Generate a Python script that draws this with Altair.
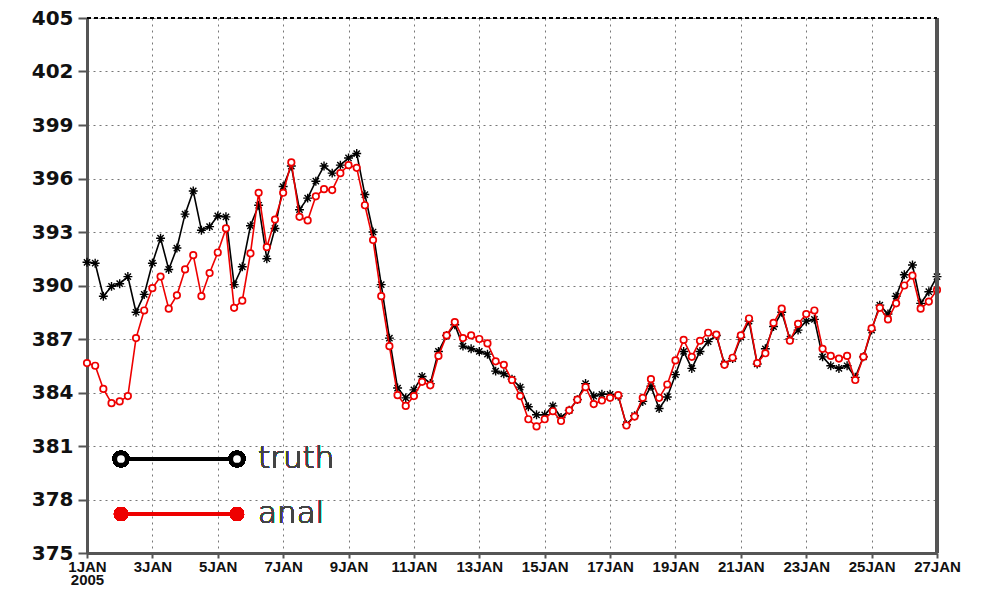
import json
import altair as alt
import pandas as pd

# 6-hourly samples from 1JAN2005 00Z (index * 0.25 day)
truth = [391.3, 391.25, 389.4, 389.95, 390.1, 390.5, 388.5, 389.5, 391.25, 392.65,
         390.9, 392.1, 394.0, 395.3, 393.1, 393.3, 393.9, 393.85, 390.05, 391.05,
         393.35, 394.5, 391.5, 393.2, 395.55, 396.7, 394.25, 394.9, 395.85, 396.7,
         396.3, 396.75, 397.15, 397.4, 395.1, 393.0, 390.05, 387.05, 384.25, 383.7,
         384.15, 384.9, 384.5, 386.3, 387.2, 387.8, 386.6, 386.45, 386.3, 386.15,
         385.2, 385.05, 384.75, 384.3, 383.2, 382.75, 382.75, 383.25, 382.6, 383.0,
         383.6, 384.5, 383.8, 383.9, 383.9, 383.8, 382.2, 382.7, 383.5, 384.35,
         383.1, 383.75, 385.0, 386.3, 385.35, 386.3, 386.85, 387.2, 385.6, 385.9,
         387.1, 388.0, 385.6, 386.45, 387.7, 388.5, 387.0, 387.5, 388.0, 388.1,
         386.0, 385.5, 385.35, 385.5, 384.85, 386.0, 387.5, 388.9, 388.4, 389.4,
         390.6, 391.15, 389.0, 389.65, 390.5]
anal = [385.65, 385.5, 384.2, 383.4, 383.5, 383.8, 387.05, 388.6, 389.85, 390.5,
        388.7, 389.45, 390.9, 391.7, 389.4, 390.7, 391.85, 393.2, 388.75, 389.15,
        391.8, 395.2, 392.15, 393.7, 395.2, 396.9, 393.85, 393.65, 395.0, 395.4,
        395.35, 396.3, 396.75, 396.6, 394.5, 392.55, 389.4, 386.6, 383.85, 383.25,
        383.8, 384.6, 384.4, 386.05, 387.2, 387.95, 387.05, 387.2, 387.0, 386.75,
        385.75, 385.55, 384.7, 383.8, 382.5, 382.1, 382.5, 382.95, 382.4, 383.0,
        383.6, 384.3, 383.35, 383.55, 383.7, 383.85, 382.15, 382.65, 383.7, 384.75,
        383.7, 384.45, 385.8, 386.95, 386.0, 386.9, 387.35, 387.25, 385.55, 385.95,
        387.2, 388.15, 385.65, 386.2, 387.9, 388.7, 386.9, 387.85, 388.4, 388.6,
        386.45, 386.05, 385.9, 386.05, 384.7, 386.0, 387.6, 388.75, 388.1, 389.0,
        390.0, 390.55, 388.7, 389.1, 389.75]

x_ticks = list(range(0, 27, 2))
x_labels = [["1JAN", "2005"], "3JAN", "5JAN", "7JAN", "9JAN", "11JAN", "13JAN",
            "15JAN", "17JAN", "19JAN", "21JAN", "23JAN", "25JAN", "27JAN"]
y_ticks = list(range(375, 406, 3))

W, H = 850, 535

df_t = pd.DataFrame({"day": [i * 0.25 for i in range(len(truth))], "v": truth})
df_a = pd.DataFrame({"day": [i * 0.25 for i in range(len(anal))], "v": anal})

xs = alt.Scale(domain=[0, 26], nice=False, zero=False)
ys = alt.Scale(domain=[375, 405], nice=False, zero=False)

label_expr = json.dumps(x_labels) + "[round(datum.value/2)]"

x_enc = alt.X("day:Q", scale=xs, axis=alt.Axis(
    values=x_ticks, labelExpr=label_expr, title=None, grid=True,
    gridDash=[2, 4], gridColor="#777", gridWidth=1,
    domainColor="#555", domainWidth=3, tickColor="#555", tickWidth=2, tickSize=5,
    labelFont="Liberation Sans", labelFontWeight="bold", labelFontSize=15,
    labelColor="#111", labelLineHeight=13, labelPadding=1, labelFlush=False,
    labelOverlap=False))
y_enc = alt.Y("v:Q", scale=ys, axis=alt.Axis(
    values=y_ticks, title=None, grid=True,
    gridDash=[2, 4], gridColor="#777", gridWidth=1,
    domainColor="#555", domainWidth=3, tickColor="#555", tickWidth=2, tickSize=9,
    labelFont="DejaVu Sans", labelFontWeight="bold", labelFontSize=20,
    labelColor="#111", labelPadding=5))

star = "M-1,0L1,0M0,-1L0,1M-0.7,-0.7L0.7,0.7M-0.7,0.7L0.7,-0.7"

truth_line = alt.Chart(df_t).mark_line(color="black", strokeWidth=1.6).encode(x=x_enc, y=y_enc)
truth_pts = alt.Chart(df_t).mark_point(shape=star, color="black", strokeWidth=1.4,
                                       size=80, filled=False, opacity=1).encode(x="day:Q", y="v:Q")
anal_line = alt.Chart(df_a).mark_line(color="#ee0000", strokeWidth=1.6).encode(x="day:Q", y="v:Q")
anal_pts = alt.Chart(df_a).mark_point(shape="circle", color="#ee0000", fill="white",
                                      filled=False, strokeWidth=1.7, size=42,
                                      opacity=1, fillOpacity=1).encode(x="day:Q", y="v:Q")

# frame: right border and dashed top border
right_border = alt.Chart(df_t).mark_rule(color="#555", strokeWidth=3).encode(
    x=alt.value(W), y=alt.value(0), y2=alt.value(H))
top_border = alt.Chart(df_t).mark_rule(color="black", strokeWidth=1.5, strokeDash=[4, 3]).encode(
    x=alt.value(0), x2=alt.value(W), y=alt.value(0))

# legend
leg_names = ["truth", "anal"]
leg_colors = ["black", "#ee0000"]
leg_y = [441, 496]
legend_layers = []
for name, col, ly in zip(leg_names, leg_colors, leg_y):
    legend_layers.append(alt.Chart(df_t).mark_rule(color=col, strokeWidth=3).encode(
        x=alt.value(33), x2=alt.value(150), y=alt.value(ly)))
    for lx in (34, 150):
        if name == "truth":
            legend_layers.append(alt.Chart(df_t).mark_point(
                shape="circle", color="black", fill="white", filled=False, strokeWidth=4.5,
                size=150, opacity=1, fillOpacity=1).encode(x=alt.value(lx), y=alt.value(ly)))
        else:
            legend_layers.append(alt.Chart(df_t).mark_point(
                shape="circle", color=col, filled=True, size=200, opacity=1).encode(
                x=alt.value(lx), y=alt.value(ly)))
    legend_layers.append(alt.Chart(df_t).mark_text(
        text=name, align="left", baseline="middle", font="DejaVu Sans", fontSize=31,
        fontWeight=300, color="#444").encode(x=alt.value(171), y=alt.value(ly)))

chart = alt.layer(
    truth_line, truth_pts, anal_line, anal_pts, right_border, top_border, *legend_layers
).properties(
    width=W, height=H,
    autosize=alt.AutoSizeParams(type="none"),
    padding={"left": 79, "top": 10, "right": 30, "bottom": 36},
).configure_view(stroke=None).configure(background="white")

chart.save("out.html", embed_options={"renderer": "svg", "actions": False})
